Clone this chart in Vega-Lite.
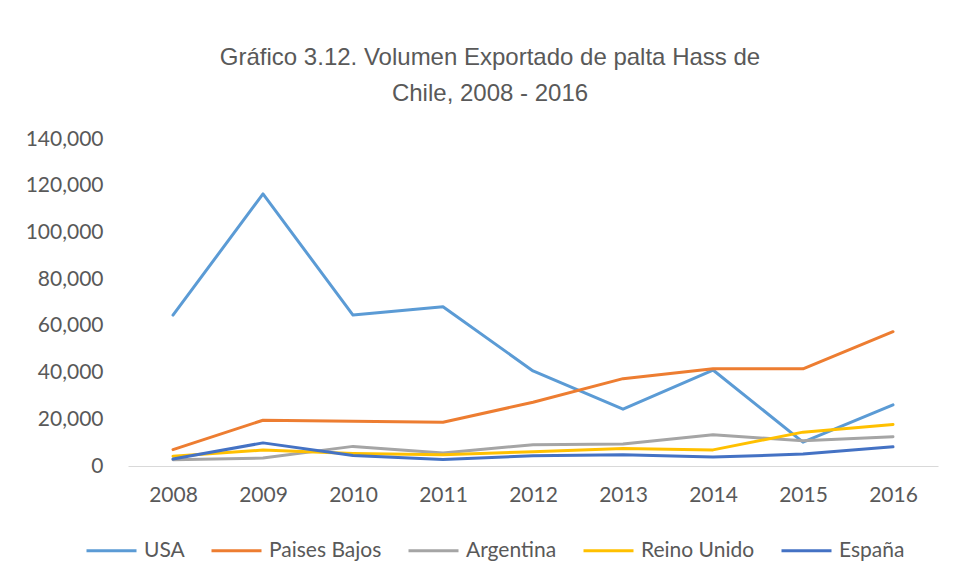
{
  "$schema": "https://vega.github.io/schema/vega-lite/v6.json",
  "width": 810,
  "height": 327,
  "autosize": {"type": "none"},
  "padding": {"left": 128, "top": 139, "right": 16, "bottom": 114},
  "background": "white",
  "title": {
    "text": ["Gráfico 3.12. Volumen Exportado de palta Hass de", "Chile, 2008 - 2016"],
    "font": "Liberation Sans",
    "fontSize": 24,
    "fontWeight": "normal",
    "color": "#595959",
    "lineHeight": 36,
    "anchor": "middle",
    "dx": -43,
    "offset": 22
  },
  "data": {
    "values": [
      {"year": "2008", "country": "USA", "value": 64600},
      {"year": "2009", "country": "USA", "value": 116500},
      {"year": "2010", "country": "USA", "value": 64600},
      {"year": "2011", "country": "USA", "value": 68200},
      {"year": "2012", "country": "USA", "value": 40700},
      {"year": "2013", "country": "USA", "value": 24300},
      {"year": "2014", "country": "USA", "value": 41100},
      {"year": "2015", "country": "USA", "value": 10200},
      {"year": "2016", "country": "USA", "value": 26200},
      {"year": "2008", "country": "Paises Bajos", "value": 7000},
      {"year": "2009", "country": "Paises Bajos", "value": 19600},
      {"year": "2010", "country": "Paises Bajos", "value": 19200},
      {"year": "2011", "country": "Paises Bajos", "value": 18700},
      {"year": "2012", "country": "Paises Bajos", "value": 27300},
      {"year": "2013", "country": "Paises Bajos", "value": 37400},
      {"year": "2014", "country": "Paises Bajos", "value": 41600},
      {"year": "2015", "country": "Paises Bajos", "value": 41600},
      {"year": "2016", "country": "Paises Bajos", "value": 57500},
      {"year": "2008", "country": "Argentina", "value": 2700},
      {"year": "2009", "country": "Argentina", "value": 3400},
      {"year": "2010", "country": "Argentina", "value": 8400},
      {"year": "2011", "country": "Argentina", "value": 5600},
      {"year": "2012", "country": "Argentina", "value": 9100},
      {"year": "2013", "country": "Argentina", "value": 9400},
      {"year": "2014", "country": "Argentina", "value": 13400},
      {"year": "2015", "country": "Argentina", "value": 10800},
      {"year": "2016", "country": "Argentina", "value": 12500},
      {"year": "2008", "country": "Reino Unido", "value": 4200},
      {"year": "2009", "country": "Reino Unido", "value": 6800},
      {"year": "2010", "country": "Reino Unido", "value": 5400},
      {"year": "2011", "country": "Reino Unido", "value": 4800},
      {"year": "2012", "country": "Reino Unido", "value": 6100},
      {"year": "2013", "country": "Reino Unido", "value": 7500},
      {"year": "2014", "country": "Reino Unido", "value": 6900},
      {"year": "2015", "country": "Reino Unido", "value": 14500},
      {"year": "2016", "country": "Reino Unido", "value": 17800},
      {"year": "2008", "country": "España", "value": 3000},
      {"year": "2009", "country": "España", "value": 9900},
      {"year": "2010", "country": "España", "value": 4500},
      {"year": "2011", "country": "España", "value": 2800},
      {"year": "2012", "country": "España", "value": 4400},
      {"year": "2013", "country": "España", "value": 4800},
      {"year": "2014", "country": "España", "value": 3800},
      {"year": "2015", "country": "España", "value": 5100},
      {"year": "2016", "country": "España", "value": 8200}
    ]
  },
  "mark": {"type": "line", "strokeWidth": 3, "strokeCap": "round", "strokeJoin": "round"},
  "encoding": {
    "x": {
      "field": "year",
      "type": "ordinal",
      "scale": {"type": "point", "padding": 0.5},
      "axis": {
        "title": null,
        "labelAngle": 0,
        "labelFont": "Lato",
        "labelFontSize": 21,
        "labelColor": "#595959",
        "ticks": false,
        "labelPadding": 18,
        "domainColor": "#D9D9D9",
        "domainWidth": 1,
        "grid": false
      }
    },
    "y": {
      "field": "value",
      "type": "quantitative",
      "scale": {"domain": [0, 140000]},
      "axis": {
        "title": null,
        "values": [0, 20000, 40000, 60000, 80000, 100000, 120000, 140000],
        "format": ",.0f",
        "labelFont": "Lato",
        "labelFontSize": 21,
        "labelColor": "#595959",
        "ticks": false,
        "domain": false,
        "grid": false,
        "labelPadding": 25
      }
    },
    "color": {
      "field": "country",
      "type": "nominal",
      "scale": {
        "domain": ["USA", "Paises Bajos", "Argentina", "Reino Unido", "España"],
        "range": ["#5B9BD5", "#ED7D31", "#A5A5A5", "#FFC000", "#4472C4"]
      },
      "legend": {
        "title": null,
        "orient": "none",
        "direction": "horizontal",
        "legendX": -43,
        "legendY": 385,
        "symbolType": "stroke",
        "symbolSize": 2500,
        "symbolStrokeWidth": 3,
        "labelFont": "Lato",
        "labelFontSize": 21,
        "labelColor": "#595959",
        "labelOffset": 6,
        "columnPadding": 20
      }
    }
  },
  "config": {"view": {"stroke": null}}
}
